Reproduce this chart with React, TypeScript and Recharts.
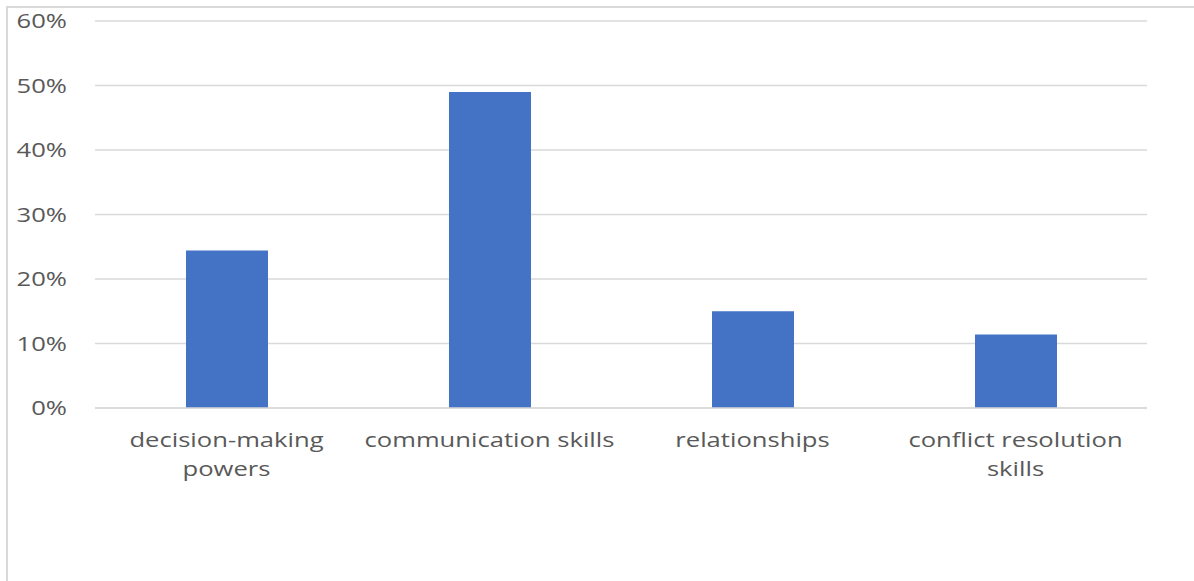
import React from "react";
import { BarChart, Bar, XAxis, YAxis, CartesianGrid } from "recharts";

const categories = [
  "decision-making powers",
  "communication skills",
  "relationships",
  "conflict resolution skills",
];
const categoryLines = [
  ["decision-making", "powers"],
  ["communication skills"],
  ["relationships"],
  ["conflict resolution", "skills"],
];
const values = [24.4, 49.0, 15.0, 11.4];
const yTicks = [0, 10, 20, 30, 40, 50, 60];

const data = categories.map((c, i) => ({ name: c, value: values[i] }));

const TEXT = "#595959";
const FONT = "'Open Sans', sans-serif";
const STRETCH = 1.28;

const YTick = (props: any) => {
  const { x, y, payload } = props;
  return (
    <g transform={`translate(${x},${y}) scale(${STRETCH},1)`}>
      <text x={0} y={0} dy="0.36em" textAnchor="end" fill={TEXT} fontSize={20} fontFamily={FONT}>
        {`${payload.value}%`}
      </text>
    </g>
  );
};

const XTick = (props: any) => {
  const { x, y, index } = props;
  const lines = categoryLines[index] || [String(props.payload.value)];
  return (
    <g transform={`translate(${x},${y}) scale(${STRETCH},1)`}>
      {lines.map((l: string, i: number) => (
        <text key={i} x={0} y={39 + i * 29.5} textAnchor="middle" fill={TEXT} fontSize={20} fontFamily={FONT}>
          {l}
        </text>
      ))}
    </g>
  );
};

export default function App() {
  return (
    <div style={{ position: "absolute", left: 0, top: 0, width: 1194, height: 581, background: "#fff", overflow: "hidden" }}>
      <div
        style={{
          position: "absolute",
          left: 6,
          top: 6,
          width: 1188,
          height: 600,
          borderTop: "2px solid #d9d9d9",
          borderLeft: "2px solid #d9d9d9",
          boxSizing: "border-box",
        }}
      />
      <div style={{ position: "absolute", left: 0, top: 0 }}>
        <BarChart width={1194} height={581} data={data} margin={{ top: 21, right: 47, left: 0, bottom: 0 }} barSize={82}>
          <CartesianGrid horizontal vertical={false} stroke="#d9d9d9" strokeWidth={1.5} />
          <XAxis
            dataKey="name"
            height={173}
            tickLine={false}
            tickSize={0}
            tickMargin={0}
            axisLine={{ stroke: "#d9d9d9", strokeWidth: 1.5 }}
            tick={<XTick />}
            interval={0}
          />
          <YAxis
            width={95}
            domain={[0, 60]}
            ticks={yTicks}
            tickLine={false}
            tickSize={0}
            tickMargin={28}
            axisLine={false}
            tick={<YTick />}
            interval={0}
          />
          <Bar dataKey="value" fill="#4472C4" isAnimationActive={false} />
        </BarChart>
      </div>
    </div>
  );
}
